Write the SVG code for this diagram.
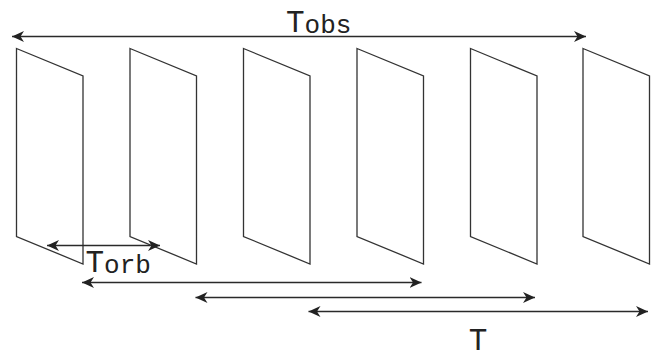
<svg xmlns="http://www.w3.org/2000/svg" width="664" height="354" viewBox="0 0 664 354">
<defs>
<marker id="ah" viewBox="-12 -6 13 12" refX="0" refY="0" markerWidth="13" markerHeight="12" markerUnits="userSpaceOnUse" orient="auto-start-reverse">
<path d="M0,0 L-12,-5.5 L-8.5,0 L-12,5.5 Z" fill="#222"/>
</marker>
<style>
.panel{fill:none;stroke:#333;stroke-width:1.3;stroke-linejoin:miter}
.arr{stroke:#2a2a2a;stroke-width:1.4;fill:none}
.big{font-family:"Nimbus Mono PS","Courier New","Liberation Mono","DejaVu Sans Mono",monospace;font-size:31px;fill:#222}
.sub{font-family:"Nimbus Mono PS","Courier New","Liberation Mono","DejaVu Sans Mono",monospace;font-size:26px;fill:#222}
</style>
</defs>
<rect width="664" height="354" fill="#fff"/>
<g id="panel1"><path class="panel" d="M16.5,48.5 L83,76 L83,264 L16.5,236.5 Z"/></g>
<g id="panel2"><path class="panel" d="M130,48.5 L196.5,76 L196.5,264 L130,236.5 Z"/></g>
<g id="panel3"><path class="panel" d="M243.5,48.5 L310,76 L310,264 L243.5,236.5 Z"/></g>
<g id="panel4"><path class="panel" d="M357,48.5 L423.5,76 L423.5,264 L357,236.5 Z"/></g>
<g id="panel5"><path class="panel" d="M470.5,48.5 L537,76 L537,264 L470.5,236.5 Z"/></g>
<g id="panel6"><path class="panel" d="M583,48.5 L649.5,76 L649.5,264 L583,236.5 Z"/></g>
<g id="connectors">
<line class="arr" x1="12" y1="36.5" x2="586" y2="36.5" marker-start="url(#ah)" marker-end="url(#ah)"/>
<line class="arr" x1="47" y1="245.5" x2="160" y2="245.5" marker-start="url(#ah)" marker-end="url(#ah)"/>
<line class="arr" x1="82" y1="282.5" x2="421.5" y2="282.5" marker-start="url(#ah)" marker-end="url(#ah)"/>
<line class="arr" x1="195.5" y1="297.5" x2="535" y2="297.5" marker-start="url(#ah)" marker-end="url(#ah)"/>
<line class="arr" x1="308.5" y1="311.5" x2="648" y2="311.5" marker-start="url(#ah)" marker-end="url(#ah)"/>
</g>
<g id="labels">
<text x="286" y="32"><tspan class="big">T</tspan><tspan class="sub" dy="1">obs</tspan></text>
<text x="85.5" y="272"><tspan class="big">T</tspan><tspan class="sub" dy="1">orb</tspan></text>
<text class="big" x="478" y="350" text-anchor="middle">T</text>
</g>
</svg>
